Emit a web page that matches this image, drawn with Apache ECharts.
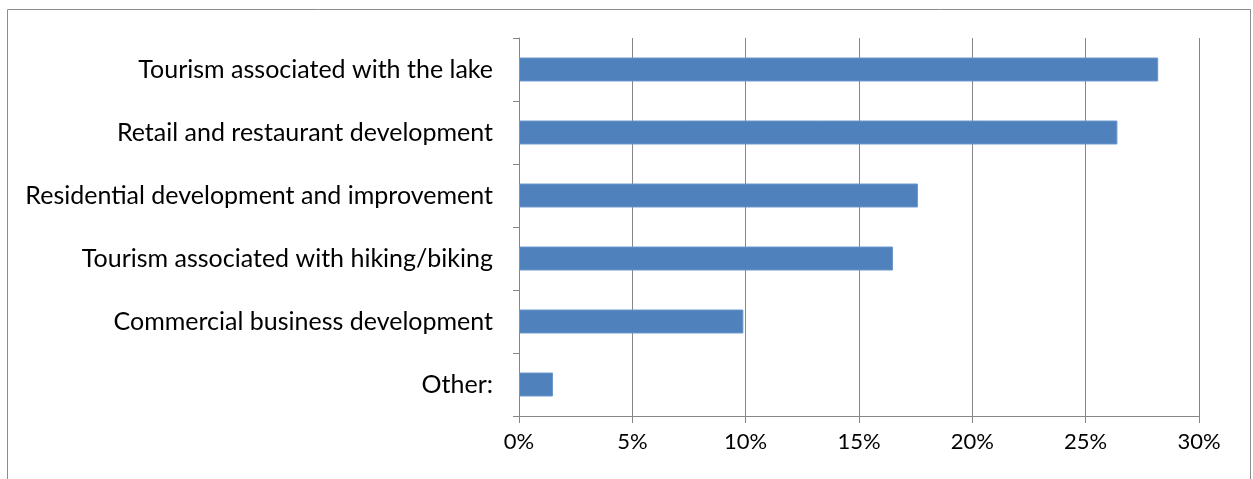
<!DOCTYPE html>
<html><head><meta charset="utf-8">
<script src="https://cdn.jsdelivr.net/npm/echarts@6/dist/echarts.min.js"></script>
<style>html,body{margin:0;padding:0;background:#fff;}#c{width:1253px;height:479px;}</style>
</head><body><div id="c"></div>
<script>
const categories = [
  "Tourism associated with the lake",
  "Retail and restaurant development",
  "Residential development and improvement",
  "Tourism associated with hiking/biking",
  "Commercial business development",
  "Other:"
];
const values = [28.2, 26.4, 17.6, 16.5, 9.9, 1.5];
const xTicks = [0, 5, 10, 15, 20, 25, 30];

const chart = echarts.init(document.getElementById('c'));
const FONT = 'Lato';
const gray = '#868686';
chart.setOption({
  animation: false,
  graphic: [{
    type: 'rect', shape: {x: 7.5, y: 9.5, width: 1243, height: 480},
    style: {fill: 'none', stroke: '#8c8c8c', lineWidth: 1}, silent: true
  }],
  grid: {left: 519, right: 54, top: 38, bottom: 63, containLabel: false},
  xAxis: {
    type: 'value', min: xTicks[0], max: xTicks[xTicks.length - 1], interval: 5,
    axisLine: {show: true, lineStyle: {color: gray, width: 1}},
    axisTick: {show: true, length: 7, lineStyle: {color: gray}},
    splitLine: {show: true, lineStyle: {color: gray, width: 1}},
    axisLabel: {formatter: v => v + '%', color: '#000', fontFamily: FONT, fontSize: 22, margin: 15}
  },
  yAxis: {
    type: 'category', data: categories, inverse: true,
    axisLine: {show: true, lineStyle: {color: gray, width: 1}},
    axisTick: {show: true, length: 6, lineStyle: {color: gray}},
    axisLabel: {color: '#000', fontFamily: FONT, fontSize: 25, margin: 26}
  },
  series: [{
    type: 'bar', data: values, barCategoryGap: '62%',
    itemStyle: {color: '#4F81BD', borderColor: '#6b96c9', borderWidth: 1}
  }]
});
</script></body></html>
